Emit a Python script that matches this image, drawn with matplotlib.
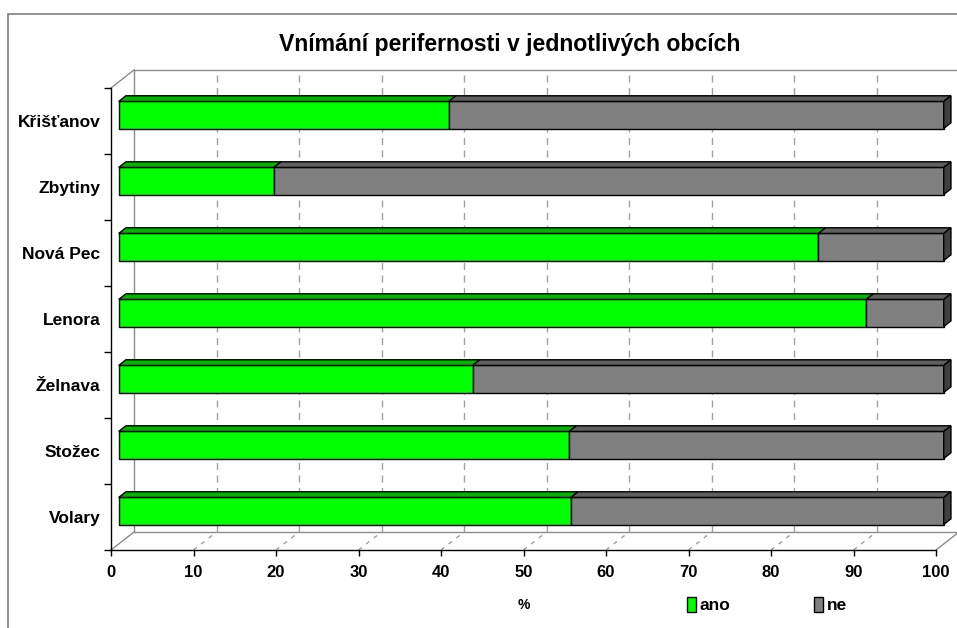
import matplotlib
matplotlib.use("Agg")
import matplotlib.pyplot as plt
from matplotlib.patches import Polygon, Rectangle

# ---- data (bottom to top) ----
categories = ["Volary", "Stožec", "Želnava", "Lenora", "Nová Pec", "Zbytiny", "Křišťanov"]
ano = [54.8, 54.6, 42.9, 90.6, 84.8, 18.8, 40.0]
ne = [45.2, 45.4, 57.1, 9.4, 15.2, 81.2, 60.0]
series_names = ["ano", "ne"]
xticks = [0, 10, 20, 30, 40, 50, 60, 70, 80, 90, 100]
title = "Vnímání perifernosti v jednotlivých obcích"
xlabel = "%"

plt.rcParams['font.family'] = ['Liberation Sans', 'DejaVu Sans']
plt.rcParams['font.weight'] = 'bold'

W, H = 957, 628
fig = plt.figure(figsize=(W / 100, H / 100), dpi=100)
fig.patch.set_facecolor("white")

# outer chart border
fig.patches.append(Rectangle((8 / W, -0.05), 1.1, 1 - 14 / H + 0.05, transform=fig.transFigure,
                             fill=False, edgecolor="#808080", lw=1.2, clip_on=False))

x0p, x1p = 111, 936
ytp, ybp = 88, 550
ax = fig.add_axes([x0p / W, 1 - ybp / H, (x1p - x0p) / W, (ybp - ytp) / H])
ax.set_xlim(0, 100)
n = len(categories)
ax.set_ylim(-0.5, n - 0.5)
ax.patch.set_visible(False)

pxx = (x1p - x0p) / 100.0
pxy = (ybp - ytp) / n
DX = 23 / pxx
DY = 18 / pxy
f_front, f_back = 0.335, 0.65
fx, fy = f_front * DX, f_front * DY
bx, by = f_back * DX, f_back * DY

grid_c = "#a0a0a0"
wall_c = "#8c8c8c"
ylo, yhi = -0.5, n - 0.5

# back wall and floor
ax.plot([DX, 100 + DX * 1.0], [yhi + DY, yhi + DY], color=wall_c, lw=1, clip_on=False, zorder=1)
ax.plot([DX, DX], [ylo + DY, yhi + DY], color=wall_c, lw=1, clip_on=False, zorder=1)
ax.plot([0, DX], [yhi, yhi + DY], color=wall_c, lw=1, clip_on=False, zorder=1)
ax.plot([DX, 100 + DX], [ylo + DY, ylo + DY], color=wall_c, lw=1, clip_on=False, zorder=1)
ax.plot([0, DX], [ylo, ylo + DY], color=wall_c, lw=1, clip_on=False, zorder=1)
ax.plot([100, 100 + DX], [ylo, ylo + DY], color=wall_c, lw=1, clip_on=False, zorder=1)
for v in xticks[1:-1]:
    ax.plot([v + DX, v + DX], [ylo + DY, yhi + DY], color=grid_c, lw=1,
            dashes=(5, 4), clip_on=False, zorder=1)
    ax.plot([v, v + DX], [ylo, ylo + DY], color=grid_c, lw=1,
            dashes=(3, 4), clip_on=False, zorder=1)

# bars
ys = [i + fy for i in range(n)]
bh = 0.41
green, green_top = "#00ff00", "#00b400"
gray, gray_top, side = "#808080", "#5f5f5f", "#404040"
b1 = ax.barh(ys, ano, left=fx, height=bh, color=green, edgecolor="black", lw=1,
             label=series_names[0], zorder=3, clip_on=False)
b2 = ax.barh(ys, ne, left=[fx + a for a in ano], height=bh, color=gray, edgecolor="black", lw=1,
             label=series_names[1], zorder=3, clip_on=False)

for i in range(n):
    yt_ = ys[i] + bh / 2
    yb_ = ys[i] - bh / 2
    segs = [(0, ano[i], green_top), (ano[i], ano[i] + ne[i], gray_top)]
    for a, b, c in segs:
        ax.add_patch(Polygon([(a + fx, yt_), (b + fx, yt_), (b + bx, yt_ + by - fy), (a + bx, yt_ + by - fy)],
                             closed=True, facecolor=c, edgecolor="black", lw=1, zorder=3, clip_on=False))
    e = ano[i] + ne[i]
    ax.add_patch(Polygon([(e + fx, yb_), (e + fx, yt_), (e + bx, yt_ + by - fy), (e + bx, yb_ + by - fy)],
                         closed=True, facecolor=side, edgecolor="black", lw=1, zorder=3, clip_on=False))

# axes styling
for s in ["top", "right"]:
    ax.spines[s].set_visible(False)
for s in ["left", "bottom"]:
    ax.spines[s].set_color("black")
    ax.spines[s].set_linewidth(1)
    ax.spines[s].set_zorder(2)

ax.set_xticks(xticks)
ax.set_xticklabels([str(v) for v in xticks], fontsize=12, fontweight="bold")
ax.tick_params(axis="x", direction="out", length=4, width=1, pad=7, color="black")
ax.set_yticks(range(n))
ax.set_yticklabels(categories, fontsize=12.5, fontweight="bold")
ax.tick_params(axis="y", which="major", length=0, pad=7.5)
ax.set_yticks([k - 0.5 for k in range(n + 1)], minor=True)
ax.tick_params(axis="y", which="minor", direction="out", length=5, width=1, color="black")

ax.set_xlabel(xlabel, fontsize=10, fontweight="bold")
ax.xaxis.set_label_coords(0.5, (ybp - 605) / (ybp - ytp))
ax.xaxis.label.set_va("center")

fig.text(510 / W, 1 - 45 / H, title, fontsize=16.6, fontweight="bold", ha="center", va="center")

leg = fig.legend(handles=[b1, b2], labels=series_names, ncol=2, frameon=False,
                 fontsize=12.5, handlelength=0.55, handleheight=1.0, handletextpad=0.2,
                 columnspacing=4.8, loc="center", bbox_to_anchor=(767 / W, 1 - 605 / H),
                 borderpad=0, borderaxespad=0)

fig.savefig("out.png", dpi=100, facecolor="white")
